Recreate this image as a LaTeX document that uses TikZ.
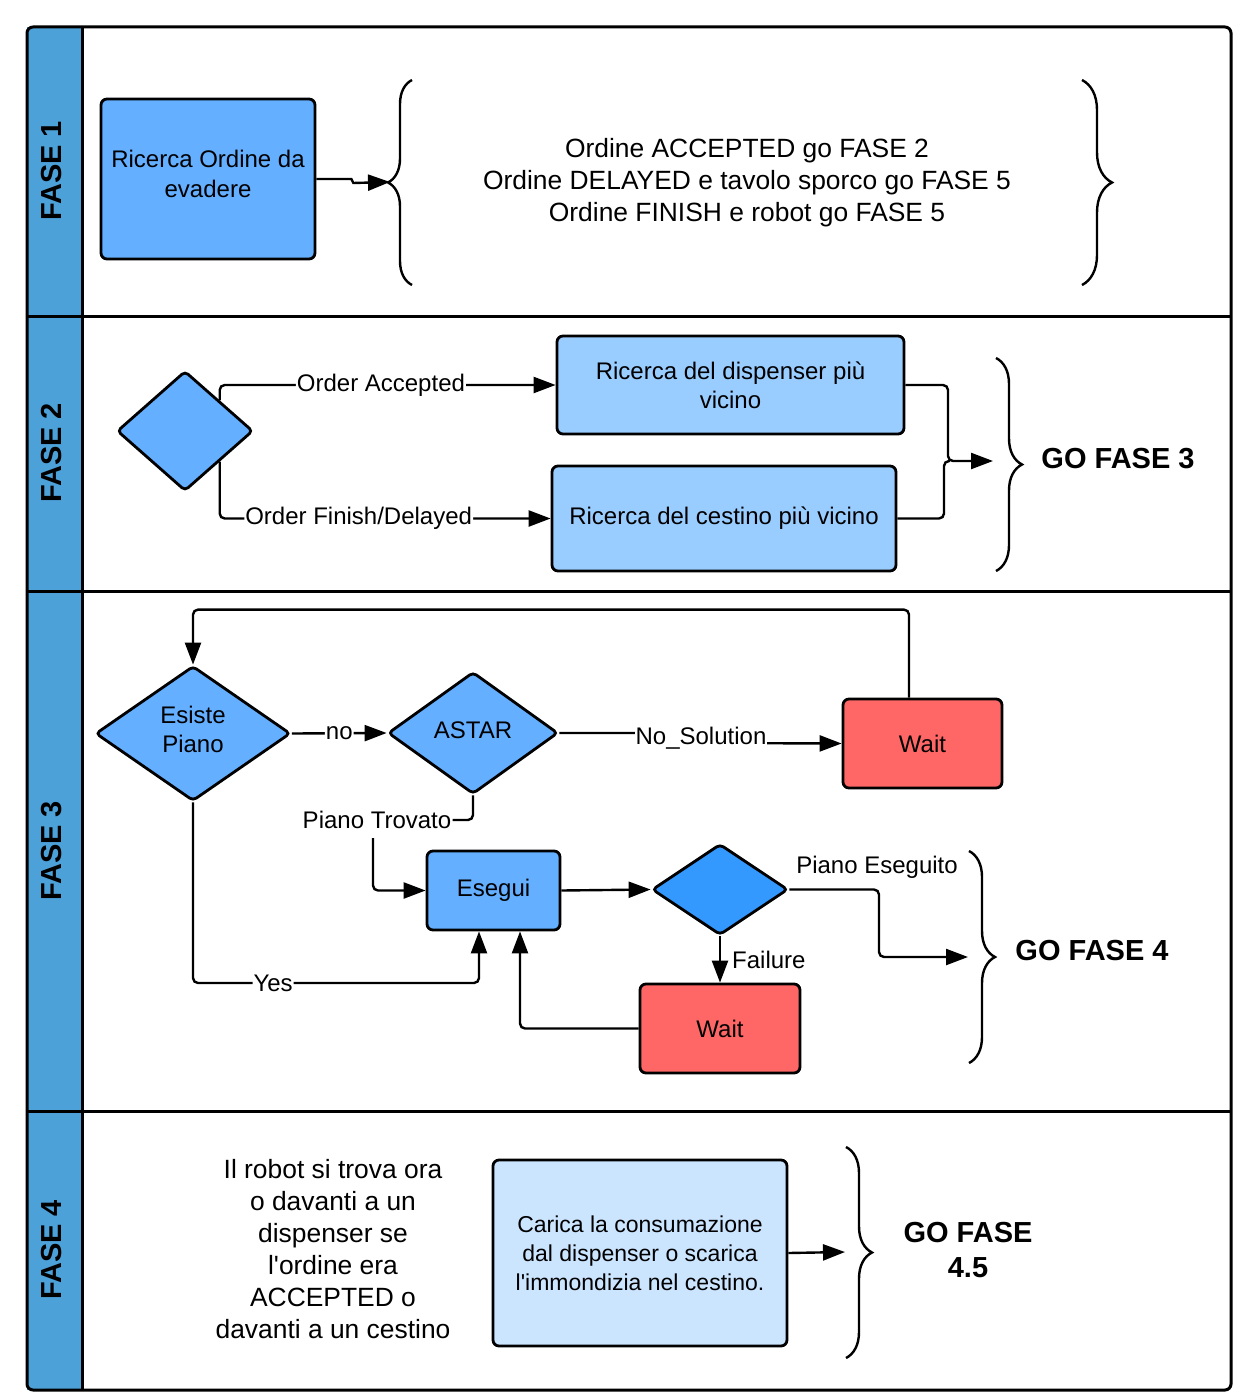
\documentclass[tikz,border=0pt]{standalone}
\usepackage{fontspec}
\setmainfont{Liberation Sans}
\usetikzlibrary{shapes.geometric,arrows.meta,decorations.pathreplacing}
\definecolor{laneblue}{RGB}{77,161,217}
\definecolor{boxblue}{RGB}{100,175,255}
\definecolor{midblue}{RGB}{153,204,255}
\definecolor{paleblue}{RGB}{204,229,255}
\definecolor{darkblue}{RGB}{51,153,255}
\definecolor{waitred}{RGB}{255,102,102}

\begin{document}
\begin{tikzpicture}[x=0.5pt,y=-0.5pt,
		box/.style={draw,line width=1.4pt,rounded corners=3pt,align=center,inner sep=0pt,font=\fontsize{12}{14.5}\selectfont},
		decision/.style={diamond,draw,line width=1.4pt,rounded corners=2pt,align=center,inner sep=0pt,font=\fontsize{12}{14.5}\selectfont},
		conn/.style={line width=1.2pt,rounded corners=2.5pt},
		arr/.style={conn,-{Triangle[length=11pt,width=8pt]}},
		lbl/.style={fill=white,inner sep=0.5pt,font=\fontsize{12}{14.5}\selectfont},
		curly/.style={line width=1.2pt,decorate,decoration={brace,amplitude=#1}},
		fase/.style={rotate=90,font=\fontsize{14.5}{17}\selectfont\bfseries},
		gofase/.style={align=center,font=\fontsize{14.5}{17.5}\selectfont\bfseries}]
	\useasboundingbox (0,0) rectangle (1247,1396);
	\fill[laneblue] (27,27) rectangle (82,1390);
	\draw[line width=1.5pt,rounded corners=3pt] (27,27) rectangle (1231,1390);
	\draw[line width=1.5pt] (82,27) -- (82,1390);
	\foreach \y in {316,591,1111}
		\draw[line width=1.5pt] (27,\y) -- (1231,\y);
	\node[fase] (f1) at (52,171) {FASE 1};
	\node[fase] (f2) at (52,453) {FASE 2};
	\node[fase] (f3) at (52,851) {FASE 3};
	\node[fase] (f4) at (52,1250) {FASE 4};

	\node[box,fill=boxblue,minimum width=107pt,minimum height=80pt,font=\fontsize{12}{15}\selectfont] (ricerca) at (208,179) {Ricerca Ordine da\\evadere\\[-14pt]\strut};
	\node[align=center,font=\fontsize{13.2}{16}\selectfont] (stati) at (747,183) {Ordine ACCEPTED go FASE 2\\Ordine DELAYED e tavolo sporco go FASE 5\\Ordine FINISH e robot go FASE 5};
	\draw[curly=12pt] (412,285) -- (412,80);
	\draw[curly=15pt] (1082,80) -- (1082,285);
	\coordinate (b1) at (390,182);
	\draw[arr,rounded corners=0pt] (ricerca.east) -- ++(35,0) -- ++(2,4) -- (b1);

	\node[decision,fill=boxblue,minimum width=68pt,minimum height=60pt] (scelta) at (185,431) {};
	\node[box,fill=midblue,minimum width=173.5pt,minimum height=49pt] (dispenser) at (730.5,385) {Ricerca del dispenser più\\vicino};
	\node[box,fill=midblue,minimum width=172pt,minimum height=52.5pt] (cestino) at (724,518.5) {Ricerca del cestino più vicino};
	\draw[arr] (scelta.north east) |- node[lbl,pos=0.74]{Order Accepted} (dispenser.west);
	\draw[arr] (scelta.south east) |- node[lbl,pos=0.71]{Order Finish/Delayed} (cestino.west);
	\coordinate (g3) at (993,461);
	\draw[arr] (dispenser.east) -| (948,461) -- (g3);
	\draw[conn] (cestino.east) -| (944,461) -- (950,461);
	\draw[curly=13pt] (996,358) -- (996,571);
	\node[gofase] (go3) at (1118,459) {GO FASE 3};

	\node[decision,fill=boxblue,minimum width=97.5pt,minimum height=67.5pt] (esiste) at (193,733.5) {Esiste\\Piano\\[-15pt]\strut};
	\node[decision,fill=boxblue,minimum width=85pt,minimum height=61pt] (astar) at (473,733) {ASTAR\\[-16pt]\strut};
	\node[box,fill=waitred,minimum width=79.5pt,minimum height=44.5pt] (wait1) at (922.5,743.5) {Wait};
	\node[box,fill=boxblue,minimum width=66.5pt,minimum height=39.5pt] (esegui) at (493.5,890.5) {Esegui};
	\node[decision,fill=darkblue,minimum width=68pt,minimum height=45.5pt] (check) at (720,889.5) {};
	\node[box,fill=waitred,minimum width=80pt,minimum height=44.5pt] (wait2) at (720,1028.5) {Wait};
	\draw[arr] (esiste.east) -- node[lbl]{no} (astar.west);
	\draw[arr,rounded corners=0pt] (astar.east) -- (701,733) -- node[lbl]{No\_Solution} (701,743) -- (wait1.west);
	\draw[arr] ([xshift=-6.75pt]wait1.north) -- ++(0,-88) -| (esiste.north);
	\node[lbl] (trovato) at (377,820) {Piano Trovato};
	\draw[conn] (astar.south) |- (trovato.east);
	\draw[arr] ([xshift=-2pt,yshift=-4pt]trovato.south) |- (esegui.west);
	\draw[arr] (esegui.east) -- (check.west);
	\node[lbl] (eseguito) at (877,867) {Piano Eseguito};
	\coordinate (g4) at (968,957);
	\draw[arr] (check.east) -| (879,957) -- (g4);
	\draw[arr] (check.south) -- node[lbl,right=5pt]{Failure} (wait2.north);
	\draw[arr] (wait2.west) -| ([xshift=13.25pt]esegui.south);
	\draw[arr] (esiste.south) -- (193,983) -- node[lbl,pos=0.28]{Yes} (479,983) -- ([xshift=-7.25pt]esegui.south);
	\draw[curly=13pt] (969,851) -- (969,1063);
	\node[gofase] (go4) at (1092,951) {GO FASE 4};

	\node[align=center,font=\fontsize{13.2}{16}\selectfont] (nota) at (333,1249) {Il robot si trova ora\\o davanti a un\\dispenser se\\l\textquotesingle ordine era\\ACCEPTED o\\davanti a un cestino};
	\node[box,fill=paleblue,minimum width=147pt,minimum height=93pt,font=\fontsize{11.5}{14.5}\selectfont] (carica) at (640,1253) {Carica la consumazione\\dal dispenser o scarica\\l\textquotesingle immondizia nel cestino.};
	\coordinate (g45) at (845,1252);
	\draw[arr] (carica.east) -- (g45);
	\draw[curly=13pt] (846,1147) -- (846,1358);
	\node[gofase] (go45) at (968,1250) {GO FASE\\4.5};
\end{tikzpicture}
\end{document}
